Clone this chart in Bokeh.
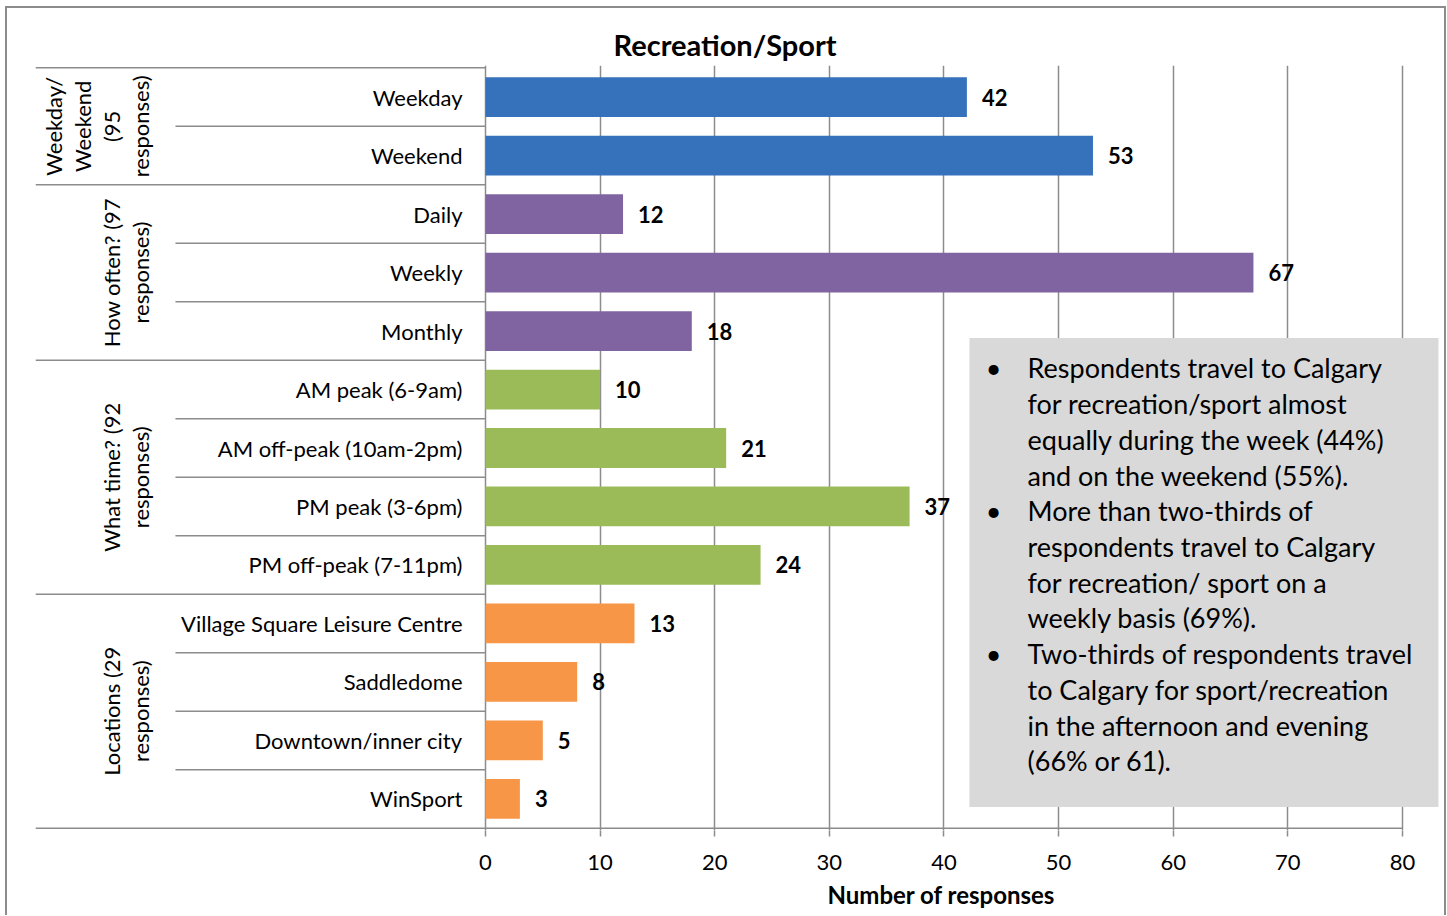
import math
from bokeh.plotting import figure
from bokeh.models import Range1d, FixedTicker, Title, ColumnDataSource
from bokeh.core.properties import value
from bokeh.embed import file_html
from bokeh.resources import INLINE

# ---------------- data ----------------
categories = ["Weekday", "Weekend", "Daily", "Weekly", "Monthly",
              "AM peak (6-9am)", "AM off-peak (10am-2pm)", "PM peak (3-6pm)",
              "PM off-peak (7-11pm)", "Village Square Leisure Centre",
              "Saddledome", "Downtown/inner city", "WinSport"]
counts = [42, 53, 12, 67, 18, 10, 21, 37, 24, 13, 8, 5, 3]

group_labels = [["Weekday/", "Weekend", "(95", "responses)"],
                ["How often? (97", "responses)"],
                ["What time? (92", "responses)"],
                ["Locations (29", "responses)"]]
group_sizes = [2, 3, 4, 4]
group_colors = ["#3671bb", "#8064a2", "#9bbb59", "#f79646"]

x_ticks = [0, 10, 20, 30, 40, 50, 60, 70, 80]

title_text = "Recreation/Sport"
x_title = "Number of responses"

notes = [
    ["Respondents travel to Calgary", "for recreation/sport almost",
     "equally during the week (44%)", "and on the weekend (55%)."],
    ["More than two-thirds of", "respondents travel to Calgary",
     "for recreation/ sport on a", "weekly basis (69%)."],
    ["Two-thirds of respondents travel", "to Calgary for sport/recreation",
     "in the afternoon and evening", "(66% or 61)."],
]

FONT = "Lato"
GRAY = "#8c8c8c"

# ---------------- derived ----------------
n = len(categories)
ypos = [n - i - 0.5 for i in range(n)]
colors = []
for c, s in zip(group_colors, group_sizes):
    colors += [c] * s

X0 = -39.26
X1 = 83.32
INNER = -27.05

p = figure(width=1447, height=915, output_backend="svg", toolbar_location=None,
           x_range=Range1d(X0, X1), y_range=Range1d(-0.04, n + 0.04),
           min_border_left=35, min_border_right=7, min_border_top=65,
           min_border_bottom=85)
p.outline_line_color = None
p.background_fill_color = "white"
p.border_fill_color = None
p.styles = {
    "background-color": "white",
    "box-shadow": ("inset 5px 6px 0 0 white, inset -1px 0 0 0 white, "
                   "inset 7px 8px 0 0 #8c8c8c, inset -3px 0 0 0 #8c8c8c"),
}

# title
p.title.text = title_text
p.title.text_font = FONT
p.title.text_font_style = "bold"
p.title.text_font_size = "29px"
p.title.text_color = "black"
p.title.align = "left"
p.title.offset = 578
p.title.standoff = 8

# grid (vertical lines at ticks)
p.ygrid.visible = False
p.xgrid.ticker = FixedTicker(ticks=x_ticks)
p.xgrid.grid_line_color = GRAY
p.xgrid.grid_line_width = 1.5

# axes
p.yaxis.visible = False
xa = p.xaxis[0]
xa.ticker = FixedTicker(ticks=x_ticks)
xa.axis_line_color = None
xa.major_tick_line_color = GRAY
xa.major_tick_line_width = 1.5
xa.major_tick_out = 6
xa.major_tick_in = 0
xa.minor_tick_line_color = None
xa.major_label_text_font = FONT
xa.major_label_text_font_size = "22px"
xa.major_label_text_color = "black"
xa.major_label_standoff = 18

# axis title (centred under the 0-80 span)
p.add_layout(Title(text=x_title, align="left", offset=792, standoff=11,
                   text_font=FONT, text_font_style="bold",
                   text_font_size="24px", text_color="black"), "below")

# separator lines in left label area + bottom axis line
bounds = [0]
for s in group_sizes:
    bounds.append(bounds[-1] + s)
sx0, sx1, sy = [], [], []
for i in range(n + 1):
    y = n - i
    if i == n:
        sx0.append(X0); sx1.append(x_ticks[-1])
    elif i in bounds:
        sx0.append(X0); sx1.append(0)
    else:
        sx0.append(INNER); sx1.append(0)
    sy.append(y)
p.segment(x0=sx0, x1=sx1, y0=sy, y1=sy, line_color=GRAY, line_width=1.5)

# text box
p.quad(left=[42.22], right=[83.14], bottom=[0.36], top=[8.38],
       fill_color="#d9d9d9", line_color=None)

# bars
src = ColumnDataSource(dict(y=ypos, v=counts, c=colors, cat=categories,
                            lab=[str(v) for v in counts]))
p.hbar(y="y", left=0, right="v", height=0.68, fill_color="c", line_color=None,
       source=src)

# value labels
p.text(x="v", y="y", text="lab", source=src, x_offset=15,
       text_align="left", text_baseline="middle", text_font=value(FONT),
       text_font_style="bold", text_font_size="22px", text_color="black")

# category labels
p.text(x=0, y="y", text="cat", source=src, x_offset=-23,
       text_align="right", text_baseline="middle", text_font=value(FONT),
       text_font_size="22px", text_color="black")

# group labels (rotated)
gx, gy, gt, goff = [], [], [], []
for g, lines in enumerate(group_labels):
    center = n - (bounds[g] + bounds[g + 1]) / 2.0
    m = len(lines)
    for j, line in enumerate(lines):
        gx.append(0)
        gy.append(center)
        gt.append(line)
        goff.append((140 - (m - 1 - j) * 29) - 485)
p.text(x=gx, y=gy, text=gt, x_offset=goff, angle=math.pi / 2,
       text_align="center", text_baseline="middle", text_font=value(FONT),
       text_font_size="22px", text_color="black")

# notes
line_h = 35.7 / 58.46
ty0 = 7.87
nx, ny, nt, bx, by = [], [], [], [], []
k = 0
for note in notes:
    bx.append(44.32); by.append(ty0 - k * line_h)
    for line in note:
        nx.append(47.29); ny.append(ty0 - k * line_h); nt.append(line)
        k += 1
p.text(x=nx, y=ny, text=nt, text_align="left", text_baseline="middle",
       text_font=value(FONT), text_font_size="27px", text_color="black")
p.text(x=bx, y=by, text=["\u2022"] * len(bx), text_align="center",
       text_baseline="middle", text_font=value(FONT), text_font_size="27px",
       text_color="black")

open("out.html", "w").write(file_html(p, INLINE))
